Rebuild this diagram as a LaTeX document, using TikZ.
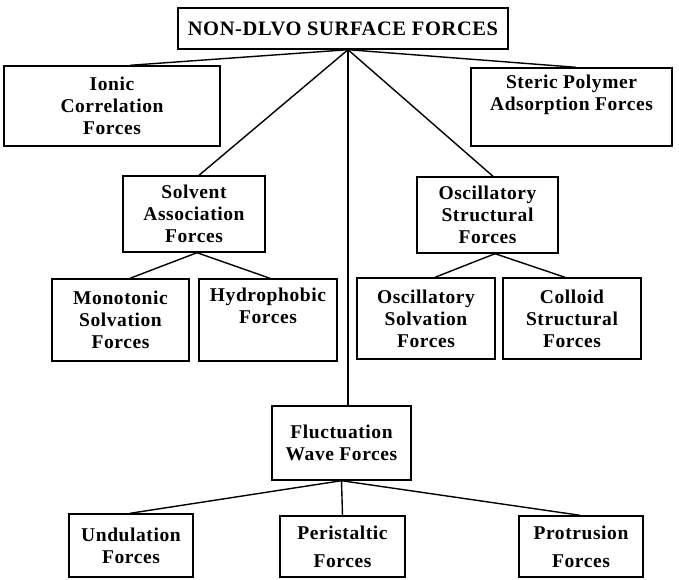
\documentclass[tikz,border=0pt]{standalone}
\usepackage{fontspec}
\setmainfont{Liberation Serif}[LetterSpace=3]
\begin{document}
\begin{tikzpicture}[x=1pt,y=-1pt,
  box/.style={draw,line width=1.4pt,inner sep=0pt,align=center,
    font=\fontsize{19.5}{22}\selectfont\bfseries},
  conn/.style={line width=1.4pt}]
\useasboundingbox (0,0) rectangle (679,580);
\fill[white] (0,0) rectangle (679,580);
% boxes: center x, center y, width, height
\node[box,minimum width=330pt,minimum height=41pt,font=\fontsize{20.5}{22}\selectfont\bfseries] (top) at (343,28.5) {NON-DLVO SURFACE FORCES};
\node[box,minimum width=216pt,minimum height=80pt] (ionic) at (112,106) {Ionic\\Correlation\\Forces};
\node[box,minimum width=201pt,minimum height=78pt] (steric) at (571.5,107) {Steric Polymer\\Adsorption Forces\\ \strut};
\node[box,minimum width=142pt,minimum height=76pt] (solvent) at (194,214) {Solvent\\Association\\Forces};
\node[box,minimum width=141pt,minimum height=76pt] (oscstruct) at (487.5,215) {Oscillatory\\Structural\\Forces};
\node[box,minimum width=137pt,minimum height=82pt] (mono) at (120.5,320) {Monotonic\\Solvation\\Forces};
\node[box,minimum width=138pt,minimum height=82pt] (hydro) at (268,320) {Hydrophobic\\Forces\\ \strut};
\node[box,minimum width=138pt,minimum height=81pt] (oscsolv) at (426,318.5) {Oscillatory\\Solvation\\Forces};
\node[box,minimum width=138pt,minimum height=81pt] (colloid) at (572,318.5) {Colloid\\Structural\\Forces};
\node[box,minimum width=139pt,minimum height=74pt] (fluct) at (341.5,443) {Fluctuation\\Wave Forces};
\node[box,minimum width=124pt,minimum height=63pt] (undul) at (131,545.5) {Undulation\\Forces};
\node[box,minimum width=125pt,minimum height=61pt] (peri) at (342.5,546.5) {Peristaltic\\[6pt]Forces};
\node[box,minimum width=124pt,minimum height=61pt] (protr) at (581,546.5) {Protrusion\\[6pt]Forces};
% connectors
\coordinate (apex) at ([xshift=5pt]top.south);
\draw[conn] (apex) -- ([xshift=18pt]ionic.north);
\draw[conn] (apex) -- ([xshift=4.5pt]steric.north);
\draw[conn] (apex) -- ([xshift=5pt]solvent.north);
\draw[conn] (apex) -- ([xshift=5.5pt]oscstruct.north);
\draw[conn] (apex) -- (apex |- fluct.north);
\draw[conn] ([xshift=3pt]solvent.south) -- ([xshift=9.5pt]mono.north);
\draw[conn] ([xshift=3pt]solvent.south) -- ([xshift=2pt]hydro.north);
\draw[conn] ([xshift=7.5pt]oscstruct.south) -- ([xshift=9pt]oscsolv.north);
\draw[conn] ([xshift=7.5pt]oscstruct.south) -- ([xshift=-7pt]colloid.north);
\draw[conn] (fluct.south) -- ([xshift=-1pt]undul.north);
\draw[conn] (fluct.south) -- (peri.north);
\draw[conn] (fluct.south) -- ([xshift=-1pt]protr.north);
\end{tikzpicture}
\end{document}
